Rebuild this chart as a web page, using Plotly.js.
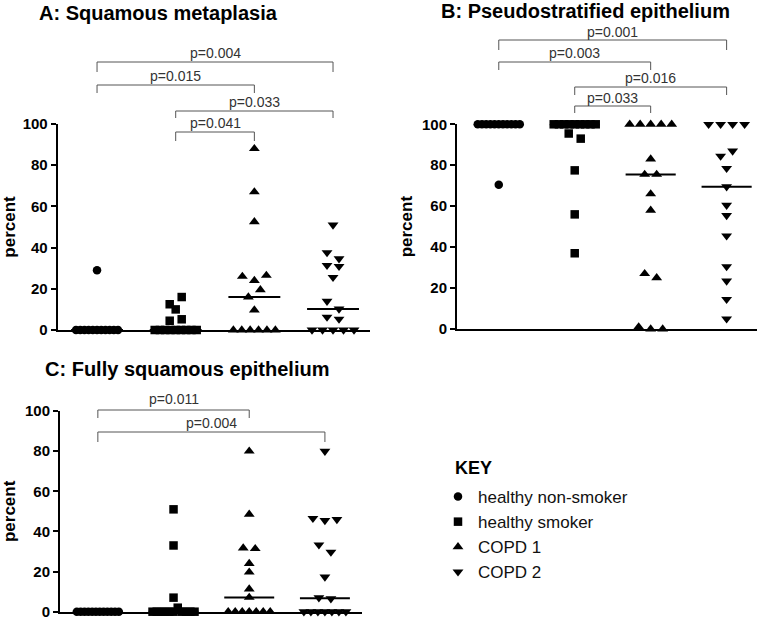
<!DOCTYPE html>
<html>
<head>
<meta charset="utf-8">
<script src="https://cdn.plot.ly/plotly-3.0.1.min.js"></script>
<style>html,body{margin:0;padding:0;background:#fff;}#chart{width:769px;height:619px;}</style>
</head>
<body>
<div id="chart"></div>
<script>
// ---------- DATA ----------
const groupNames = ['healthy non-smoker', 'healthy smoker', 'COPD 1', 'COPD 2'];
const groupSymbols = ['circle', 'square', 'triangle-up', 'triangle-down'];

const panelTitles = ['A: Squamous metaplasia', 'B: Pseudostratified epithelium', 'C: Fully squamous epithelium'];

// A: Squamous metaplasia (percent)
const metaHNS  = [29, 0, 0, 0, 0, 0, 0, 0, 0, 0, 0, 0];
const metaHS   = [12.5, 16, 4.5, 10, 5.2, 0, 0, 0, 0, 0, 0, 0, 0, 0];
const metaCOPD1 = [88, 67, 52.5, 26, 24, 26.5, 16, 19.5, 9.7, 0, 0, 0, 0, 0, 0];
const metaCOPD2 = [51, 37.6, 34.6, 31.4, 30.9, 25.6, 14, 10.2, 6.3, 5.3, 0, 0, 0, 0, 0];

// B: Pseudostratified epithelium (percent)
const pseudoHNS  = [70.5, 100, 100, 100, 100, 100, 100, 100, 100, 100, 100, 100];
const pseudoHS   = [95.5, 93, 77.5, 56, 37, 100, 100, 100, 100, 100, 100, 100, 100, 100];
const pseudoCOPD1 = [100, 100, 100, 100, 100, 83, 75.5, 75.5, 66, 58, 27, 25, 1, 0, 0];
const pseudoCOPD2 = [100, 100, 100, 100, 84.5, 87, 78.5, 69.5, 60.5, 55.5, 45.5, 30.5, 23.5, 14.5, 5];

// C: Fully squamous epithelium (percent)
const fullHNS  = [0, 0, 0, 0, 0, 0, 0, 0, 0, 0, 0, 0];
const fullHS   = [51, 33, 7, 0, 0, 0, 0, 0, 0, 2, 0, 0, 0, 0];
const fullCOPD1 = [80, 48.5, 31.7, 31.4, 24, 19.7, 11.3, 7.1, 0, 0, 0, 0, 0, 0, 0];
const fullCOPD2 = [80, 46.5, 45.5, 46, 33.3, 29.7, 17.3, 7, 6.5, 0, 0, 0, 0, 0, 0, 0];

// p-value comparisons: [from group, to group], label
const metaPairs = [[0, 3], [0, 2], [1, 3], [1, 2]];
const metaP = ['p=0.004', 'p=0.015', 'p=0.033', 'p=0.041'];
const pseudoPairs = [[0, 3], [0, 2], [1, 3], [1, 2]];
const pseudoP = ['p=0.001', 'p=0.003', 'p=0.016', 'p=0.033'];
const fullPairs = [[0, 2], [0, 3]];
const fullP = ['p=0.011', 'p=0.004'];

const yTicks = [0, 20, 40, 60, 80, 100];

// ---------- LAYOUT HELPERS ----------
const W = 769, H = 619;
const FONT = 'Arial, "Liberation Sans", sans-serif';
const px = x => x / W;
const py = y => 1 - y / H;

const panels = [
  {data: [metaHNS, metaHS, metaCOPD1, metaCOPD2], pairs: metaPairs, p: metaP,
   xd: [57.7, 370], yd: [124, 330], xr: [-0.5, 3.47],
   title: {x: 158.5, y: 13, anchor: 'center'},
   br: [[62, 72, 53], [85, 93, 76], [111, 118, 102], [132, 141, 123]]},
  {data: [pseudoHNS, pseudoHS, pseudoCOPD1, pseudoCOPD2], pairs: pseudoPairs, p: pseudoP,
   xd: [457, 757], yd: [124.3, 329], xr: [-0.55, 3.4],
   title: {x: 585, y: 11, anchor: 'center'},
   br: [[40, 50, 32], [62, 70, 53], [87, 95, 78], [106, 113, 98]]},
  {data: [fullHNS, fullHS, fullCOPD1, fullCOPD2], pairs: fullPairs, p: fullP,
   xd: [60, 362], yd: [411, 611.7], xr: [-0.5, 3.49],
   title: {x: 43, y: 369, anchor: 'left'},
   br: [[410, 418, 399], [432, 442, 423]]}
];

function median(arr) {
  const s = arr.slice().sort((a, b) => a - b);
  const n = s.length;
  return n % 2 ? s[(n - 1) / 2] : (s[n / 2 - 1] + s[n / 2]) / 2;
}

// scatter-dot layout: points with similar values share a row and are spread sideways
function swarm(vals, center, unitPx) {
  const order = vals.map((v, i) => i).sort((a, b) => vals[b] - vals[a] || a - b);
  const rows = [];
  let cur = null;
  for (const i of order) {
    if (cur && cur.top - vals[i] <= 4.01) cur.m.push(i);
    else { cur = {top: vals[i], m: [i]}; rows.push(cur); }
  }
  const xs = new Array(vals.length);
  rows.forEach(r => {
    r.m.sort((a, b) => a - b);
    const n = r.m.length;
    const sp = n > 1 ? Math.min(12, 42 / (n - 1)) : 0;
    r.m.forEach((i, k) => { xs[i] = center + (k - (n - 1) / 2) * sp / unitPx; });
  });
  return xs;
}

const traces = [];
const layout = {
  width: W, height: H,
  margin: {l: 0, r: 0, t: 0, b: 0},
  paper_bgcolor: '#fff', plot_bgcolor: 'rgba(0,0,0,0)',
  font: {family: FONT, color: '#000'},
  showlegend: true,
  legend: {
    x: px(438), y: py(479), xanchor: 'left', yanchor: 'top',
    font: {family: FONT, size: 17, color: '#111'},
    traceorder: 'grouped', tracegroupgap: 0, bgcolor: 'rgba(0,0,0,0)'
  },
  annotations: [{
    xref: 'paper', yref: 'paper', x: px(453), y: py(468), xanchor: 'left', yanchor: 'middle',
    showarrow: false, text: 'KEY', font: {family: FONT, size: 18, weight: 'bold', color: '#000'}
  }],
  shapes: []
};

panels.forEach((P, pi) => {
  const sfx = pi === 0 ? '' : String(pi + 1);
  const xa = 'x' + sfx, ya = 'y' + sfx;
  const unitPx = (P.xd[1] - P.xd[0]) / (P.xr[1] - P.xr[0]);

  layout['xaxis' + sfx] = {
    domain: [px(P.xd[0]), px(P.xd[1])], range: P.xr, anchor: ya,
    showline: true, linewidth: 2, linecolor: '#000', showgrid: false, zeroline: false,
    showticklabels: false, ticks: '', fixedrange: true
  };
  layout['yaxis' + sfx] = {
    domain: [py(P.yd[1]), py(P.yd[0])], range: [0, 100], anchor: xa,
    showline: true, linewidth: 2, linecolor: '#000', showgrid: false, zeroline: false,
    ticks: 'outside', ticklen: 5, tickwidth: 2, tickcolor: '#000',
    tickvals: yTicks, ticktext: yTicks.map(String), ticklabeloverflow: 'allow',
    tickfont: {family: FONT, size: 15, weight: 'bold', color: '#000'},
    title: {text: 'percent', font: {family: FONT, size: 17, weight: 'bold', color: '#000'}, standoff: 5},
    fixedrange: true
  };

  P.data.forEach((vals, g) => {
    const xs = swarm(vals, g, unitPx);
    traces.push({
      type: 'scatter', mode: 'markers', x: xs, y: vals, xaxis: xa, yaxis: ya,
      name: groupNames[g], legendgroup: 'g' + g, showlegend: pi === 0,
      cliponaxis: false, hoverinfo: 'y',
      marker: {symbol: groupSymbols[g], color: '#000', size: g >= 2 ? 9.5 : 8.5, line: {width: 0}}
    });
    const m = median(vals);
    traces.push({
      type: 'scatter', mode: 'lines', x: [g - 0.33, g + 0.33], y: [m, m], xaxis: xa, yaxis: ya,
      showlegend: false, legendgroup: 'g' + g, hoverinfo: 'skip', cliponaxis: false,
      line: {color: '#000', width: 2}
    });
  });

  // panel title
  layout.annotations.push({
    xref: 'paper', yref: 'paper', x: px(P.title.x), y: py(P.title.y),
    xanchor: P.title.anchor, yanchor: 'middle', showarrow: false,
    text: panelTitles[pi], font: {family: FONT, size: 20, weight: 'bold', color: '#000'}
  });

  // significance brackets
  const toPx = i => P.xd[0] + (i - P.xr[0]) * unitPx;
  P.pairs.forEach((pr, k) => {
    const [yl, yt, ytxt] = P.br[k];
    const x1 = px(toPx(pr[0])), x2 = px(toPx(pr[1]));
    layout.shapes.push({
      type: 'path', xref: 'paper', yref: 'paper',
      path: `M ${x1},${py(yt)} L ${x1},${py(yl)} L ${x2},${py(yl)} L ${x2},${py(yt)}`,
      line: {color: '#555', width: 1}
    });
    layout.annotations.push({
      xref: 'paper', yref: 'paper', x: (x1 + x2) / 2, y: py(ytxt),
      xanchor: 'center', yanchor: 'middle', showarrow: false,
      text: P.p[k], font: {family: FONT, size: 14, color: '#333'}
    });
  });
});

Plotly.newPlot('chart', traces, layout, {staticPlot: true, displayModeBar: false});
</script>
</body>
</html>
